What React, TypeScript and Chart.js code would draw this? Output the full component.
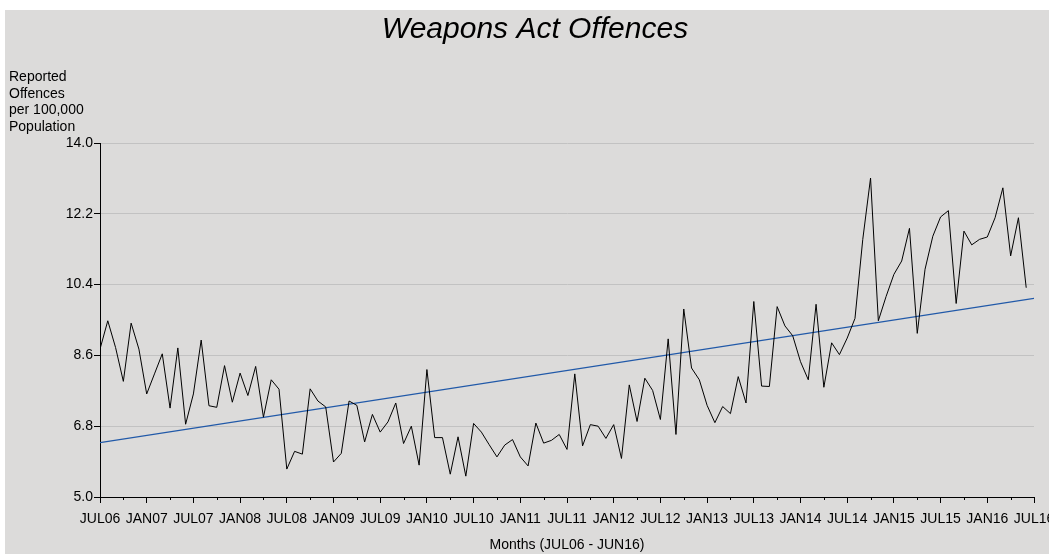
import React, { useEffect, useRef } from "react";
import { Chart, registerables } from "chart.js";

Chart.register(...registerables);

const chartTitle = "Weapons Act Offences";
const yTitleLines = ["Reported", "Offences", "per 100,000", "Population"];
const xTitle = "Months (JUL06 - JUN16)";

const tickLabels = [
  "JUL06", "JAN07", "JUL07", "JAN08", "JUL08", "JAN09", "JUL09", "JAN10", "JUL10", "JAN11",
  "JUL11", "JAN12", "JUL12", "JAN13", "JUL13", "JAN14", "JUL14", "JAN15", "JUL15", "JAN16", "JUL16",
];

const yTicks = [5.0, 6.8, 8.6, 10.4, 12.2, 14.0];

// Monthly values JUL06 .. JUN16 (120 months)
const offences = [
  8.76, 9.48, 8.80, 7.94, 9.42, 8.76, 7.62, 8.13, 8.64, 7.26,
  8.79, 6.85, 7.62, 8.99, 7.32, 7.28, 8.34, 7.41, 8.15, 7.58,
  8.32, 7.03, 7.98, 7.74, 5.71, 6.16, 6.09, 7.75, 7.44, 7.29,
  5.89, 6.11, 7.44, 7.33, 6.40, 7.10, 6.65, 6.91, 7.39, 6.36,
  6.80, 5.81, 8.24, 6.51, 6.51, 5.58, 6.53, 5.53, 6.87, 6.65,
  6.33, 6.02, 6.32, 6.46, 6.02, 5.79, 6.88, 6.37, 6.44, 6.59,
  6.21, 8.13, 6.30, 6.84, 6.80, 6.49, 6.84, 5.98, 7.85, 6.92,
  8.02, 7.71, 6.97, 9.02, 6.59, 9.78, 8.28, 7.98, 7.33, 6.89,
  7.30, 7.12, 8.06, 7.39, 9.97, 7.82, 7.81, 9.84, 9.35, 9.10,
  8.44, 7.98, 9.90, 7.79, 8.92, 8.62, 9.04, 9.54, 11.55, 13.11,
  9.48, 10.10, 10.66, 11.00, 11.83, 9.16, 10.79, 11.63, 12.12, 12.28,
  9.92, 11.76, 11.41, 11.55, 11.61, 12.10, 12.86, 11.13, 12.10, 10.32,
];

// Trend line end points (month index, value)
const trendX = [0, 120];
const trendY = [6.38, 10.05];

const FONT = '"Liberation Sans", Arial, Helvetica, sans-serif';
const W = 1049;
const H = 554;

const decorPlugin = {
  id: "decor",
  beforeDraw(chart: any) {
    const ctx = chart.ctx;
    ctx.save();
    ctx.fillStyle = "#ffffff";
    ctx.fillRect(0, 0, chart.width, chart.height);
    ctx.fillStyle = "#dcdbda";
    ctx.fillRect(5, 10, chart.width - 5, chart.height - 10);
    ctx.restore();
  },
  afterDraw(chart: any) {
    const ctx = chart.ctx;
    const xs = chart.scales.x;
    const area = chart.chartArea;
    ctx.save();
    // minor ticks (quarters)
    ctx.strokeStyle = "#000000";
    ctx.lineWidth = 1;
    ctx.beginPath();
    for (let k = 0; k < tickLabels.length - 1; k++) {
      const px = Math.round(xs.getPixelForValue(k * 6 + 3)) + 0.5;
      ctx.moveTo(px, area.bottom);
      ctx.lineTo(px, area.bottom + 3);
    }
    ctx.stroke();
    // main title
    ctx.fillStyle = "#000000";
    ctx.font = `italic 30px ${FONT}`;
    ctx.textAlign = "center";
    ctx.textBaseline = "alphabetic";
    ctx.fillText(chartTitle, 535, 38);
    // y axis title block
    ctx.font = `14px ${FONT}`;
    ctx.textAlign = "left";
    yTitleLines.forEach((line, i) => {
      ctx.fillText(line, 9, 81.3 + i * 16.5);
    });
    ctx.restore();
  },
};

export default function App() {
  const ref = useRef<HTMLCanvasElement | null>(null);

  useEffect(() => {
    document.body.style.margin = "0";
    const canvas = ref.current;
    if (!canvas) return;
    Chart.defaults.font.family = FONT;
    Chart.defaults.font.size = 14;
    Chart.defaults.color = "#000000";

    const chart = new Chart(canvas, {
      type: "line",
      data: {
        datasets: [
          {
            label: "Offences",
            data: offences.map((v, i) => ({ x: i, y: v })),
            borderColor: "#000000",
            borderWidth: 1,
            pointRadius: 0,
            tension: 0,
            fill: false,
          },
          {
            label: "Trend",
            data: trendX.map((x, i) => ({ x, y: trendY[i] })),
            borderColor: "#2159a8",
            borderWidth: 1.2,
            pointRadius: 0,
            tension: 0,
            fill: false,
          },
        ],
      },
      options: {
        responsive: false,
        animation: false,
        events: [],
        layout: { padding: { top: 143, right: 15, bottom: 0, left: 0 } },
        plugins: {
          legend: { display: false },
          title: { display: false },
          tooltip: { enabled: false },
        },
        scales: {
          x: {
            type: "linear",
            min: 0,
            max: 120,
            afterBuildTicks: (scale: any) => {
              scale.ticks = tickLabels.map((_, k) => ({ value: k * 6 }));
            },
            afterFit: (scale: any) => {
              scale.height = 57;
              scale.paddingLeft = 0;
              scale.paddingRight = 0;
            },
            ticks: {
              autoSkip: false,
              maxRotation: 0,
              minRotation: 0,
              padding: 8,
              font: { size: 14, family: FONT },
              color: "#000000",
              callback: (v: any) => tickLabels[Math.round(Number(v) / 6)] ?? "",
            },
            grid: {
              display: true,
              drawOnChartArea: false,
              drawTicks: true,
              tickLength: 6,
              tickColor: "#000000",
              color: "#000000",
            },
            border: { display: true, color: "#000000", width: 1 },
            title: {
              display: true,
              text: xTitle,
              font: { size: 14, family: FONT },
              color: "#000000",
              padding: { top: 0, bottom: 0 },
            },
          },
          y: {
            type: "linear",
            min: 5,
            max: 14,
            afterBuildTicks: (scale: any) => {
              scale.ticks = yTicks.map((v) => ({ value: v }));
            },
            afterFit: (scale: any) => {
              scale.width = 100;
              scale.paddingTop = 0;
              scale.paddingBottom = 0;
            },
            ticks: {
              padding: 1,
              font: { size: 14, family: FONT },
              color: "#000000",
              callback: (v: any) => Number(v).toFixed(1),
            },
            grid: {
              display: true,
              drawOnChartArea: true,
              drawTicks: true,
              tickLength: 6,
              tickColor: "#000000",
              color: "#c2c2c2",
            },
            border: { display: true, color: "#000000", width: 1 },
          },
        },
      },
      plugins: [decorPlugin],
    });
    return () => chart.destroy();
  }, []);

  return (
    <div style={{ width: W, height: H, position: "relative" }}>
      <canvas ref={ref} width={W} height={H} style={{ display: "block" }} />
    </div>
  );
}
